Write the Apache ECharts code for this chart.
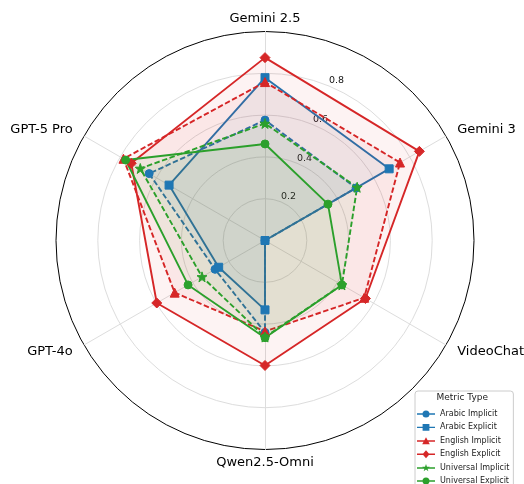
<!DOCTYPE html>
<html><head><meta charset="utf-8">
<script src="https://cdn.jsdelivr.net/npm/echarts@6/dist/echarts.min.js"></script>
<style>html,body{margin:0;padding:0;background:#fff}#c{width:524px;height:484px}</style>
</head><body><div id="c"></div>
<script>
// ---- data ----
const categories = ['Gemini 2.5', 'Gemini 3', 'VideoChat', 'Qwen2.5-Omni', 'GPT-4o', 'GPT-5 Pro'];
const seriesNames = ['Arabic Implicit', 'Arabic Explicit', 'English Implicit', 'English Explicit', 'Universal Implicit', 'Universal Explicit'];
const arabicImplicit    = [0.576, 0.503, 0.000, 0.440, 0.276, 0.640];
const arabicExplicit    = [0.779, 0.686, 0.000, 0.332, 0.256, 0.530];
const englishImplicit   = [0.758, 0.746, 0.548, 0.435, 0.499, 0.782];
const englishExplicit   = [0.875, 0.853, 0.555, 0.598, 0.598, 0.739];
const universalImplicit = [0.560, 0.509, 0.425, 0.462, 0.348, 0.689];
const universalExplicit = [0.462, 0.348, 0.425, 0.465, 0.425, 0.770];
const radialTicks = ['0.2', '0.4', '0.6', '0.8'];

// ---- styling ----
const FONT = 'DejaVu Sans';
const BLUE = '#1f77b4', RED = '#d62728', GREEN = '#2ca02c';
const DASH = [5.5, 2.5];
const STAR = 'path://M9,0L9.94,2.71L12.8,2.76L10.52,4.49L11.35,7.24L9,5.6L6.65,7.24L7.48,4.49L5.2,2.76L8.06,2.71Z';
const LINE = 'M0,3.3H18V4.7H0Z';
const ICONS = {
  circle: 'path://' + LINE + 'M5.5,4A3.5,3.5,0,0,1,12.5,4A3.5,3.5,0,0,1,5.5,4Z',
  rect: 'path://' + LINE + 'M5.6,0.6H12.4V7.4H5.6Z',
  triangle: 'path://' + LINE + 'M9,0.3L12.8,7.3H5.2Z',
  diamond: 'path://' + LINE + 'M9,0L12.5,4L9,8L5.5,4Z',
  star: 'path://' + LINE + 'M9,0L9.94,2.71L12.8,2.76L10.52,4.49L11.35,7.24L9,5.6L6.65,7.24L7.48,4.49L5.2,2.76L8.06,2.71Z'
};
const styles = [
  {values: arabicImplicit,    color: BLUE,  dash: true,  symbol: 'circle',   icon: 'circle',   size: 8},
  {values: arabicExplicit,    color: BLUE,  dash: false, symbol: 'rect',     icon: 'rect',     size: 8},
  {values: englishImplicit,   color: RED,   dash: true,  symbol: 'triangle', icon: 'triangle', size: 9},
  {values: englishExplicit,   color: RED,   dash: false, symbol: 'diamond',  icon: 'diamond',  size: 10},
  {values: universalImplicit, color: GREEN, dash: true,  symbol: STAR,       icon: 'star',     size: 10},
  {values: universalExplicit, color: GREEN, dash: false, symbol: 'circle',   icon: 'circle',   size: 8}
];

// radar draws indicators counter-clockwise; reference goes clockwise from top
const order = [0, 5, 4, 3, 2, 1];

const chart = echarts.init(document.getElementById('c'), null, {renderer: 'canvas'});
chart.setOption({
  backgroundColor: '#ffffff',
  animation: false,
  textStyle: {fontFamily: FONT},
  title: {
    text: 'Metric Type', left: 436.5, top: 393.5, padding: 0,
    textStyle: {fontSize: 9, fontWeight: 'normal', color: '#222', fontFamily: FONT}
  },
  legend: {
    orient: 'vertical', left: 415, top: 391, height: 140,
    padding: [19, 4, 6, 2],
    itemWidth: 18, itemHeight: 8, itemGap: 5.4,
    backgroundColor: 'rgba(255,255,255,0.85)',
    borderColor: '#cccccc', borderWidth: 1, borderRadius: 3,
    textStyle: {fontSize: 8, color: '#222', fontFamily: FONT},
    data: seriesNames.map((n, i) => ({name: n, icon: ICONS[styles[i].icon], itemStyle: {color: styles[i].color}}))
  },
  radar: {
    center: [265, 240.5], radius: 209, startAngle: 90,
    shape: 'circle', splitNumber: 5, nameGap: 13,
    indicator: order.map(i => ({name: categories[i], min: 0, max: 1})),
    axisName: {color: '#000', fontSize: 13, fontFamily: FONT, verticalAlign: 'middle'},
    axisLine: {lineStyle: {color: '#dddddd', width: 1}},
    splitLine: {lineStyle: {color: ['#dddddd', '#dddddd', '#dddddd', '#dddddd', '#dddddd', '#000000'], width: 1}},
    splitArea: {show: false},
    axisLabel: {show: false}
  },
  polar: {center: [265, 240.5], radius: 209},
  angleAxis: {type: 'value', min: 0, max: 360, startAngle: 67.5, show: false},
  radiusAxis: {
    type: 'value', min: 0, max: 1, interval: 0.2,
    axisLine: {show: false}, axisTick: {show: false}, splitLine: {show: false},
    axisLabel: {
      margin: 0, align: 'left', verticalAlign: 'bottom',
      fontSize: 9.5, color: '#111', fontFamily: FONT,
      formatter: v => { const s = v.toFixed(1); return radialTicks.indexOf(s) >= 0 ? s : ''; }
    }
  },
  series: [{
    type: 'radar',
    data: styles.map((s, k) => ({
      name: seriesNames[k],
      value: order.map(i => s.values[i]),
      symbol: s.symbol,
      symbolSize: s.size,
      itemStyle: {color: s.color, borderColor: s.color},
      lineStyle: {color: s.color, width: 1.9, type: s.dash ? DASH : 'solid'},
      areaStyle: {color: s.color, opacity: 0.055}
    }))
  }]
});
</script></body></html>
